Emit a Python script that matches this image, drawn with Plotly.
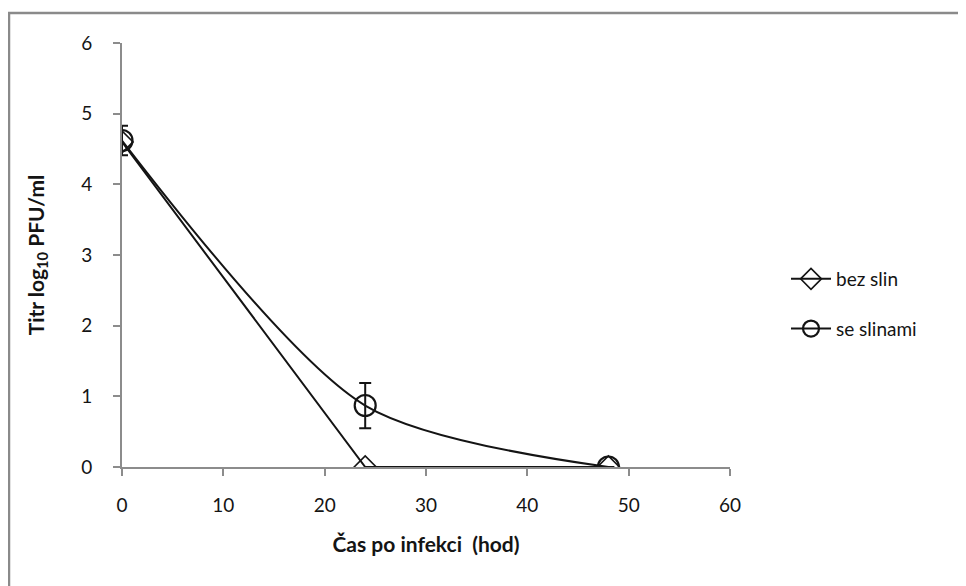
import plotly.graph_objects as go

hours = [0, 24, 48]
bez_slin = [4.6, 0.0, 0.0]
se_slinami = [4.62, 0.87, 0.0]
se_slinami_err = [0.21, 0.32, 0.0]
x_ticks = [0, 10, 20, 30, 40, 50, 60]
y_ticks = [0, 1, 2, 3, 4, 5, 6]

FONT = "Lato"
INK = "#141414"

fig = go.Figure()
fig.add_trace(go.Scatter(
    x=hours, y=bez_slin, name="bez slin", mode="lines+markers",
    line=dict(color=INK, width=2),
    marker=dict(symbol="diamond-open", size=17, color=INK, line=dict(width=1.6)),
    legendgroup="a",
))
fig.add_trace(go.Scatter(
    x=hours, y=se_slinami, name="se slinami", mode="lines+markers",
    line=dict(color=INK, width=2, shape="spline", smoothing=0.8),
    marker=dict(symbol="circle-open", size=21, color=INK, line=dict(width=2.2)),
    error_y=dict(type="data", array=se_slinami_err, color=INK, thickness=2, width=6),
    legendgroup="b",
))

# page has an 8px body margin; work in page pixels and convert
OFF = 8
W, H = 966 - OFF, 586 - OFF
L, T = 122 - OFF, 43 - OFF
pw, ph = 608, 424
R, B = W - L - pw, H - T - ph

def px_x(x):
    return (x - OFF - L) / pw

def px_y(y):
    return (T + ph - (y - OFF)) / ph

fig.update_layout(
    width=W, height=H,
    margin=dict(l=L, r=R, t=T, b=B),
    paper_bgcolor="white", plot_bgcolor="white",
    font=dict(family=FONT, size=19, color=INK),
    showlegend=True,
    legend=dict(x=px_x(786), y=px_y(260), xanchor="left", yanchor="top",
                font=dict(size=19), tracegroupgap=22, itemwidth=40,
                bgcolor="rgba(0,0,0,0)"),
    xaxis=dict(range=[0, 60], tickvals=x_ticks, showgrid=False, zeroline=False,
               showline=True, linecolor="#8c8c8c", linewidth=2,
               ticks="outside", ticklen=7, tickwidth=2, tickcolor="#8c8c8c",
               ticklabelstandoff=13,
               title=dict(text="<b>Čas po infekci  (hod)</b>", standoff=23,
                          font=dict(size=21))),
    yaxis=dict(range=[0, 6], tickvals=y_ticks, showgrid=False, zeroline=False,
               showline=True, linecolor="#8c8c8c", linewidth=2,
               ticks="outside", ticklen=7, tickwidth=2, tickcolor="#8c8c8c",
               ticklabelstandoff=17,
               title=dict(text="<b>Titr log<sub>10</sub> PFU/ml</b>", standoff=31,
                          font=dict(size=21))),
    shapes=[dict(type="rect", xref="paper", yref="paper",
                 x0=px_x(9), x1=px_x(1100), y0=px_y(700), y1=px_y(13),
                 line=dict(color="#8a8a8a", width=2.5), fillcolor="rgba(0,0,0,0)",
                 layer="below")],
)

fig.write_html("out.html")
